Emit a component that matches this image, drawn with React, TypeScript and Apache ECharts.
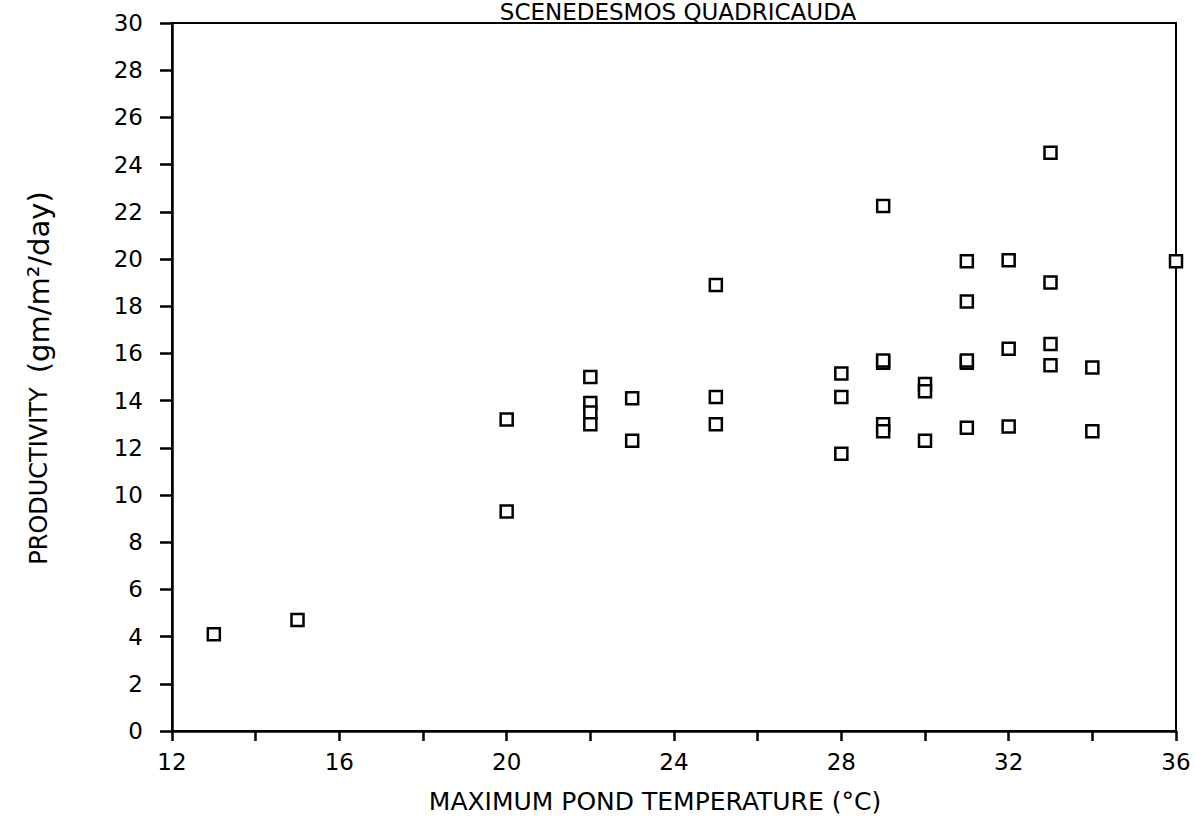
import React, { useEffect, useRef } from "react";
import * as echarts from "echarts";

const titleText = "SCENEDESMOS QUADRICAUDA";
const xAxisTitle = "MAXIMUM POND TEMPERATURE (°C)";
const yAxisTitleMain = "PRODUCTIVITY";
const yAxisTitleUnit = "(gm/m²/day)";

const temperature = [
  13, 15, 20, 20, 22, 22, 22, 22, 23, 23, 25, 25, 25, 28, 28, 28,
  29, 29, 29, 29, 29, 30, 30, 30, 31, 31, 31, 31, 31, 32, 32, 32,
  33, 33, 33, 33, 34, 34, 36,
];
const productivity = [
  4.1, 4.7, 13.2, 9.3, 15.0, 13.9, 13.5, 13.0, 14.1, 12.3, 18.9, 14.15, 13.0, 15.15, 14.15, 11.75,
  22.25, 15.6, 15.7, 13.0, 12.7, 14.7, 14.4, 12.3, 19.9, 18.2, 15.6, 15.7, 12.85, 19.95, 16.2, 12.9,
  24.5, 19.0, 16.4, 15.5, 15.4, 12.7, 19.9,
];

const FONT = "DejaVu Sans";

export default function App() {
  const ref = useRef<HTMLDivElement>(null);
  useEffect(() => {
    if (!ref.current) return;
    const chart = echarts.init(ref.current, null, { renderer: "svg" });
    const data = temperature.map((t, i) => [t, productivity[i]]);
    chart.setOption({
      animation: false,
      backgroundColor: "#fff",
      grid: {
        left: 172,
        right: 20,
        top: 23,
        bottom: 90,
        show: true,
        borderColor: "#000",
        borderWidth: 2,
        backgroundColor: "transparent",
      },
      graphic: [
        {
          type: "text",
          x: 678,
          y: 0,
          style: {
            text: titleText,
            fontFamily: FONT,
            fontSize: 23,
            fill: "#000",
            textAlign: "center",
            textVerticalAlign: "top",
          },
        },
        {
          type: "text",
          x: 655,
          y: 801,
          style: {
            text: xAxisTitle,
            fontFamily: FONT,
            fontSize: 25,
            fill: "#000",
            textAlign: "center",
            textVerticalAlign: "middle",
          },
        },
        {
          type: "text",
          x: 39,
          y: 378,
          rotation: Math.PI / 2,
          style: {
            text: "{a|" + yAxisTitleMain + "}{s| }{b|" + yAxisTitleUnit + "}",
            rich: {
              a: { fontFamily: FONT, fontSize: 24, fill: "#000" },
              s: { fontFamily: FONT, fontSize: 24, width: 14 },
              b: { fontFamily: FONT, fontSize: 29, fill: "#000" },
            },
            textAlign: "center",
            textVerticalAlign: "middle",
          },
        },
      ],
      xAxis: {
        type: "value",
        min: 12,
        max: 36,
        interval: 2,
        axisLine: { show: true, lineStyle: { color: "#000", width: 2.5 } },
        axisTick: { show: true, length: 10, lineStyle: { color: "#000", width: 2.5 } },
        axisLabel: {
          fontFamily: FONT,
          fontSize: 23,
          color: "#000",
          margin: 19,
          formatter: (v: number) => ((v - 12) % 4 === 0 ? String(v) : ""),
        },
        splitLine: { show: false },
      },
      yAxis: {
        type: "value",
        min: 0,
        max: 30,
        interval: 2,
        axisLine: { show: true, lineStyle: { color: "#000", width: 2.5 } },
        axisTick: { show: true, length: 12, lineStyle: { color: "#000", width: 2.5 } },
        axisLabel: { fontFamily: FONT, fontSize: 23, color: "#000", margin: 29 },
        splitLine: { show: false },
      },
      series: [
        {
          type: "scatter",
          data,
          symbol: "rect",
          symbolSize: 12,
          itemStyle: { color: "#fff", borderColor: "#000", borderWidth: 2.5, opacity: 1 },
        },
      ],
    });
    return () => chart.dispose();
  }, []);
  return (
    <div
      ref={ref}
      style={{ position: "fixed", left: 0, top: 0, width: 1196, height: 821 }}
    />
  );
}
